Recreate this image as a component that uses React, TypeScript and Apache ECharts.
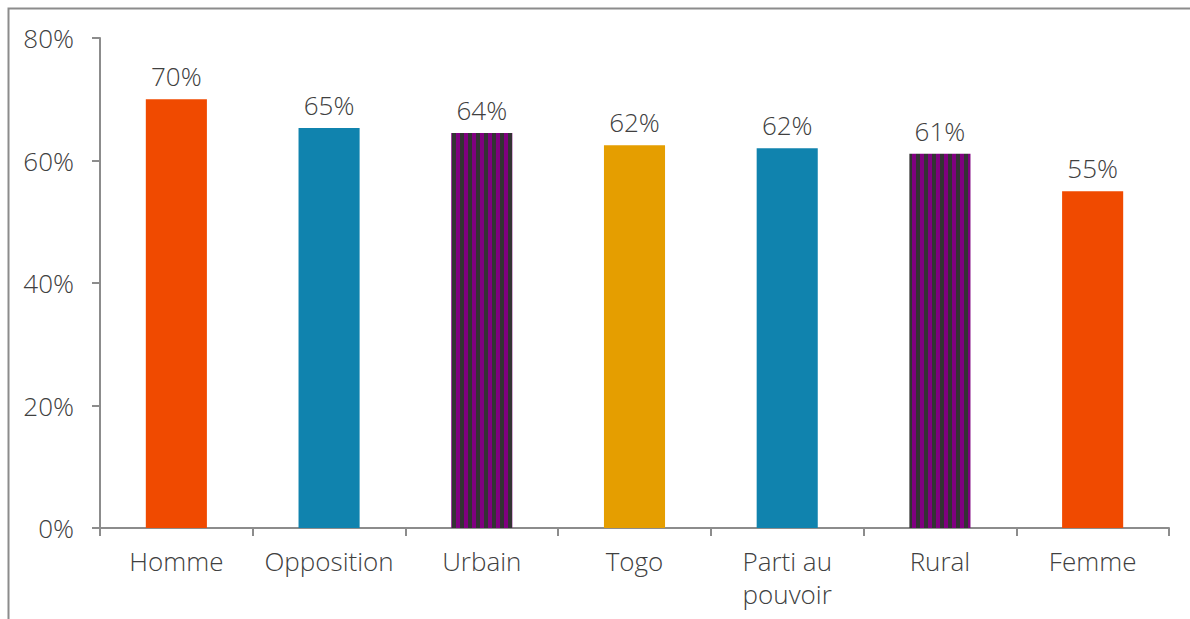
import React, { useEffect, useRef } from "react";
import * as echarts from "echarts";

const categories = ["Homme", "Opposition", "Urbain", "Togo", "Parti au\npouvoir", "Rural", "Femme"];
const values = [70, 65.3, 64.5, 62.5, 62, 61.1, 55];
const labels = ["70%", "65%", "64%", "62%", "62%", "61%", "55%"];
const barKinds = ["orange", "blue", "stripe", "gold", "blue", "stripe", "orange"];
const yTicks = [0, 20, 40, 60, 80];

function makeStripe(): any {
  const c = document.createElement("canvas");
  c.width = 8;
  c.height = 8;
  const ctx = c.getContext("2d")!;
  ctx.fillStyle = "#333333";
  ctx.fillRect(0, 0, 8, 8);
  ctx.fillStyle = "#800080";
  ctx.fillRect(0, 0, 4, 8);
  return { image: c, repeat: "repeat" };
}

export default function App() {
  const ref = useRef<HTMLDivElement>(null);
  useEffect(() => {
    const chart = echarts.init(ref.current!, undefined, { renderer: "svg" });
    const stripe = makeStripe();
    const colorOf: Record<string, any> = {
      orange: "#F04A00",
      blue: "#1083AE",
      gold: "#E59E00",
      stripe,
    };
    const font = "'Open Sans', sans-serif";
    const txt = { color: "#404040", fontSize: 26, fontFamily: font, fontWeight: 300 };
    chart.setOption({
      animation: false,
      backgroundColor: "#ffffff",
      graphic: [
        {
          type: "rect",
          shape: { x: 8.5, y: 8.5, width: 1300, height: 800 },
          style: { fill: "none", stroke: "#8c8c8c", lineWidth: 2 },
          silent: true,
        },
      ],
      grid: { left: 100, top: 38, right: 21, bottom: 91 },
      xAxis: {
        type: "category",
        data: categories,
        axisLine: { lineStyle: { color: "#8c8c8c", width: 2 } },
        axisTick: { show: true, length: 8, lineStyle: { color: "#8c8c8c", width: 2 } },
        axisLabel: { ...txt, margin: 16, lineHeight: 33, interval: 0 },
      },
      yAxis: {
        type: "value",
        min: 0,
        max: 80,
        interval: 20,
        splitLine: { show: false },
        axisLine: { show: true, lineStyle: { color: "#8c8c8c", width: 2 } },
        axisTick: { show: true, length: 8, lineStyle: { color: "#8c8c8c", width: 2 } },
        axisLabel: {
          ...txt,
          margin: 26,
          formatter: (v: number) => (yTicks.includes(v) ? v + "%" : ""),
        },
      },
      series: [
        {
          type: "bar",
          barWidth: "40%",
          data: values.map((v, i) => ({
            value: v,
            itemStyle: { color: colorOf[barKinds[i]] },
            label: { formatter: labels[i] },
          })),
          label: {
            show: true,
            position: "top",
            distance: 10,
            ...txt,
          },
        },
      ],
    });
    return () => chart.dispose();
  }, []);
  return <div ref={ref} style={{ position: "absolute", left: 0, top: 0, width: 1190, height: 619 }} />;
}
